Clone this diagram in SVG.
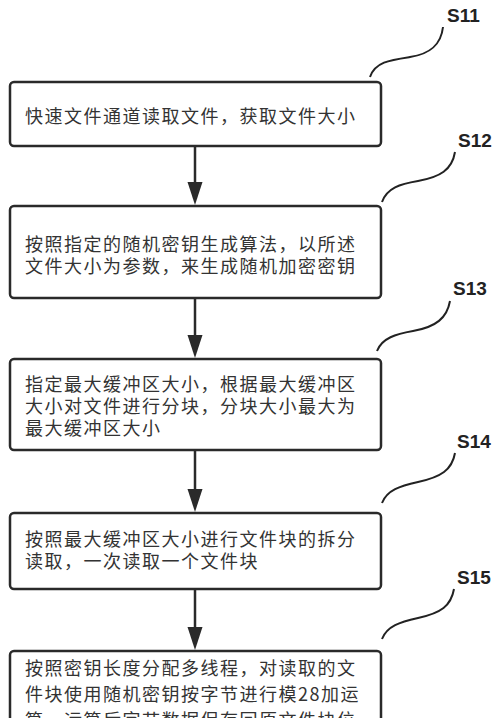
<svg xmlns="http://www.w3.org/2000/svg" width="500" height="718" viewBox="0 0 500 718">
<style>
.box{fill:#fff;stroke:#2a2a2a;stroke-width:2.5}
.t{font-family:"Noto Sans CJK SC","Noto Sans",sans-serif;font-size:18px;letter-spacing:1.5px;fill:#333}
.lbl{font-family:"Liberation Sans",Arial,sans-serif;font-weight:bold;font-size:19px;fill:#222}
.cv{fill:none;stroke:#222;stroke-width:2}
.ar{stroke:#2a2a2a;stroke-width:2.5;fill:none}
</style>
<defs>
<marker id="ah" markerUnits="userSpaceOnUse" markerWidth="16" markerHeight="24" refX="8" refY="23" orient="auto-start-reverse" viewBox="0 0 16 24">
<path d="M0,0 L16,0 L8,23 Z" fill="#2a2a2a" transform="rotate(0)"/>
</marker>
</defs>
<rect width="500" height="718" fill="#fff"/>
<g id="connectors">
<path class="ar" d="M195,147 V182"/><path d="M187.5,182 H202.5 L195,205 Z" fill="#2a2a2a"/>
<path class="ar" d="M195,299 V335"/><path d="M187.5,335 H202.5 L195,358 Z" fill="#2a2a2a"/>
<path class="ar" d="M195,451 V489"/><path d="M187.5,489 H202.5 L195,512 Z" fill="#2a2a2a"/>
<path class="ar" d="M195,590 V627"/><path d="M187.5,627 H202.5 L195,650 Z" fill="#2a2a2a"/>
</g>
<g id="labels">
<path class="cv" d="M370,77 C375,62 390,60 410,57 C430,54 441,45 443,27"/>
<text class="lbl" x="447" y="22">S11</text>
<path class="cv" d="M382,202 C387,188 400,184 418,181 C440,177 452,170 455,152"/>
<text class="lbl" x="458" y="147">S12</text>
<path class="cv" d="M377,351 C382,338 396,334 413,331 C436,327 447,318 450,301"/>
<text class="lbl" x="453" y="295">S13</text>
<path class="cv" d="M382,503 C387,490 400,486 418,482 C441,477 452,470 455,453"/>
<text class="lbl" x="457" y="448">S14</text>
<path class="cv" d="M382,639 C387,626 400,622 418,618 C441,613 451,606 454,589"/>
<text class="lbl" x="457" y="584">S15</text>
</g>
<g id="s11">
<rect class="box" x="10" y="82" width="371" height="64" rx="4"/>
<text class="t" x="25" y="123">快速文件通道读取文件，获取文件大小</text>
</g>
<g id="s12">
<rect class="box" x="10" y="206" width="371" height="92" rx="4"/>
<text class="t" x="25" y="251">按照指定的随机密钥生成算法，以所述</text>
<text class="t" x="25" y="273">文件大小为参数，来生成随机加密密钥</text>
</g>
<g id="s13">
<rect class="box" x="10" y="359" width="371" height="91" rx="4"/>
<text class="t" x="25" y="391">指定最大缓冲区大小，根据最大缓冲区</text>
<text class="t" x="25" y="413">大小对文件进行分块，分块大小最大为</text>
<text class="t" x="25" y="435">最大缓冲区大小</text>
</g>
<g id="s14">
<rect class="box" x="10" y="513" width="371" height="76" rx="4"/>
<text class="t" x="25" y="546">按照最大缓冲区大小进行文件块的拆分</text>
<text class="t" x="25" y="568">读取，一次读取一个文件块</text>
</g>
<g id="s15">
<rect class="box" x="10" y="651" width="371" height="100" rx="4"/>
<text class="t" x="25" y="675">按照密钥长度分配多线程，对读取的文</text>
<text class="t" x="25" y="701">件块使用随机密钥按字节进行模28加运</text>
<text class="t" x="25" y="727">算，运算后字节数据保存回原文件块位</text>
</g>
</svg>
